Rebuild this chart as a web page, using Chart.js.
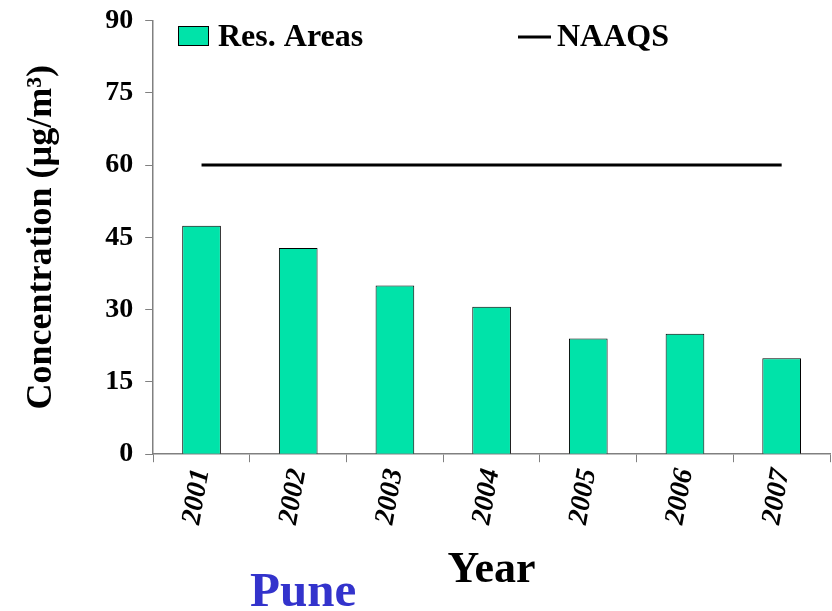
<!DOCTYPE html>
<html>
<head>
<meta charset="utf-8">
<script src="https://cdn.jsdelivr.net/npm/chart.js@4.4.0/dist/chart.umd.min.js"></script>
<style>
  body { margin: 0; background: #fff; }
  #wrap { position: relative; width: 832px; height: 611px; }
</style>
</head>
<body>
<div id="wrap"><canvas id="myChart" width="832" height="611"></canvas></div>
<script>
// data
const years = ['2001', '2002', '2003', '2004', '2005', '2006', '2007'];
const resAreas = [47.4, 42.8, 35.0, 30.6, 24.0, 25.0, 19.9];
const naaqs = [60, 60, 60, 60, 60, 60, 60];
const yTicks = [0, 15, 30, 45, 60, 75, 90];

const serif = "'Liberation Serif', 'Times New Roman', serif";
const barColor = '#00E3A9';

// legend + city name drawn on the canvas
const extras = {
    id: 'extras',
    afterDraw(chart) {
        const ctx = chart.ctx;
        ctx.save();
        // bar legend
        ctx.fillStyle = barColor;
        ctx.strokeStyle = '#000';
        ctx.lineWidth = 1;
        ctx.fillRect(178.5, 26.5, 30, 19);
        ctx.strokeRect(178.5, 26.5, 30, 19);
        ctx.fillStyle = '#000';
        ctx.font = 'bold 32px ' + serif;
        ctx.textBaseline = 'middle';
        ctx.fillText(chart.data.datasets[0].label, 218, 38);
        // line legend
        ctx.lineWidth = 3;
        ctx.beginPath();
        ctx.moveTo(518, 37);
        ctx.lineTo(551, 37);
        ctx.stroke();
        ctx.fillText(chart.data.datasets[1].label, 557, 38);
        // city
        ctx.fillStyle = '#3333CC';
        ctx.font = 'bold 49px ' + serif;
        ctx.textBaseline = 'alphabetic';
        ctx.fillText('Pune', 250, 606);
        ctx.restore();
    }
};

const ctx = document.getElementById('myChart').getContext('2d');
const myChart = new Chart(ctx, {
    type: 'bar',
    data: {
        labels: years,
        datasets: [{
            label: 'Res. Areas',
            data: resAreas,
            backgroundColor: barColor,
            borderColor: '#000',
            borderWidth: 1,
            categoryPercentage: 1,
            barPercentage: 0.4,
            order: 2
        }, {
            type: 'line',
            label: 'NAAQS',
            data: naaqs,
            borderColor: '#000',
            borderWidth: 3,
            pointRadius: 0,
            fill: false,
            order: 1
        }]
    },
    options: {
        responsive: false,
        animation: false,
        layout: { padding: { top: 0, right: 2, left: 20, bottom: 14 } },
        scales: {
            x: {
                grid: { display: true, drawOnChartArea: false, offset: true, tickLength: 8, color: '#808080' },
                border: { color: '#808080', width: 1.5 },
                ticks: {
                    color: '#000',
                    minRotation: 80, maxRotation: 80,
                    padding: 4,
                    font: { family: serif, size: 28, weight: 'bold', style: 'italic' }
                },
                title: {
                    display: true,
                    text: 'Year',
                    color: '#000',
                    padding: { top: 13, bottom: 0 },
                    font: { family: serif, size: 44, weight: 'bold' }
                }
            },
            y: {
                min: 0,
                max: 90,
                afterBuildTicks: axis => { axis.ticks = yTicks.map(v => ({ value: v })); },
                grid: { display: true, drawOnChartArea: false, tickLength: 8, color: '#808080' },
                border: { color: '#808080', width: 1.5 },
                ticks: {
                    color: '#000',
                    padding: 12,
                    font: { family: serif, size: 28, weight: 'bold', lineHeight: 0.6 }
                },
                title: {
                    display: true,
                    text: 'Concentration (µg/m³)',
                    color: '#000',
                    padding: { top: 0, bottom: 30 },
                    font: { family: serif, size: 36, weight: 'bold' }
                }
            }
        },
        plugins: {
            legend: { display: false },
            tooltip: { enabled: false }
        }
    },
    plugins: [extras]
});
</script>
</body>
</html>
